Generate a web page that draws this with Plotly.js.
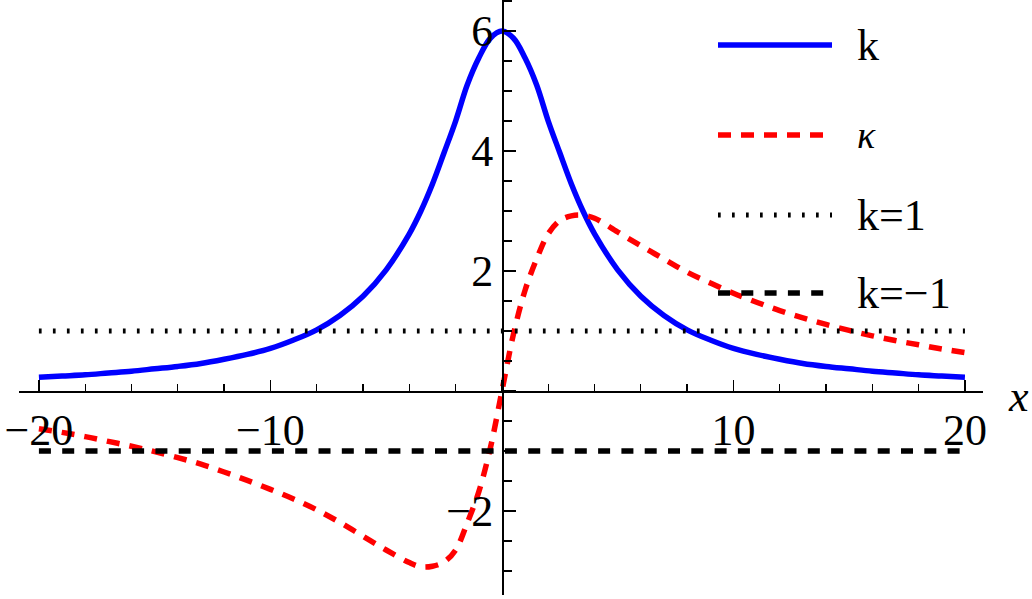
<!DOCTYPE html>
<html>
<head>
<meta charset="utf-8">
<script src="https://cdn.plot.ly/plotly-3.0.1.min.js"></script>
<style>
  html, body { margin: 0; padding: 0; background: #fff; }
  #plot { width: 1032px; height: 599px; }
</style>
</head>
<body>
<div id="plot"></div>
<script>
// Sample points
const xs = [-20, -19, -18, -17, -16, -15, -14, -13, -12, -11, -10, -9, -8, -7, -6, -5, -4,
    -3.5, -3, -2.5, -2, -1.5, -1, -0.5, 0, 0.5, 1, 1.5, 2, 2.5, 3, 3.5,
    4, 5, 6, 7, 8, 9, 10, 11, 12, 13, 14, 15, 16, 17, 18, 19, 20];

// k (blue, solid)
const kVals = [0.23, 0.25, 0.27, 0.30, 0.33, 0.37, 0.41, 0.46, 0.53, 0.61, 0.71, 0.85, 1.02, 1.26, 1.58, 2.02, 2.62,
    3.0, 3.45, 3.97, 4.5, 5.1, 5.55, 5.88, 6.0, 5.88, 5.55, 5.1, 4.5, 3.97, 3.45, 3.0,
    2.62, 2.02, 1.58, 1.26, 1.02, 0.85, 0.71, 0.61, 0.53, 0.46, 0.41, 0.37, 0.33, 0.30, 0.27, 0.25, 0.23];

// kappa (red, dashed)
const kappaVals = [-0.63, -0.69, -0.76, -0.84, -0.92, -1.01, -1.11, -1.22, -1.35, -1.49, -1.64, -1.8, -1.98, -2.19, -2.42, -2.65, -2.86,
    -2.93, -2.92, -2.85, -2.65, -2.2, -1.68, -0.95, 0, 0.95, 1.68, 2.2, 2.62, 2.84, 2.92, 2.93,
    2.88, 2.65, 2.42, 2.2, 1.98, 1.8, 1.63, 1.48, 1.34, 1.22, 1.11, 1.01, 0.92, 0.84, 0.77, 0.7, 0.64];

// reference levels
const levelX = [-20, 20];
const kOne = [1, 1];
const kMinusOne = [-1, -1];

// ticks
const xTickVals = [-20, -10, 0, 10, 20];
const xTickText = ['\u221220', '\u221210', '', '10', '20'];
const yTickVals = [-2, 0, 2, 4, 6];
const yTickText = ['\u22122', '', '2', '4', '6'];

const legendNames = ['k', '\u03ba', 'k=1', 'k=\u22121'];

// page size, used to place things in paper coords
const W = 1032, H = 599;
const px = p => p / W;
const py = p => 1 - p / H;

const serif = 'Liberation Serif, Times New Roman, serif';

const styles = [
    { color: '#0000ff', width: 5.5, dash: 'solid' },
    { color: '#ff0000', width: 5.5, dash: '13px,10px' },
    { color: '#000000', width: 5, dash: '2.7px,11.3px' },
    { color: '#000000', width: 5.5, dash: '12px,11.3px' }
];

const traces = [
    { x: xs, y: kVals, name: legendNames[0], line: Object.assign({ shape: 'spline', smoothing: 1 }, styles[0]) },
    { x: xs, y: kappaVals, name: legendNames[1], line: Object.assign({ shape: 'spline', smoothing: 1 }, styles[1]) },
    { x: levelX, y: kOne, name: legendNames[2], line: styles[2] },
    { x: levelX, y: kMinusOne, name: legendNames[3], line: styles[3] }
].map(t => Object.assign({ type: 'scatter', mode: 'lines', hoverinfo: 'skip' }, t));

// Legend drawn by hand (wide line samples like the original)
const legendRows = [45, 135, 215, 293];
const shapes = legendRows.map((row, i) => ({
    type: 'line', xref: 'paper', yref: 'paper',
    x0: px(718), x1: px(832), y0: py(row), y1: py(row),
    line: styles[i]
}));
const annotations = legendRows.map((row, i) => ({
    xref: 'paper', yref: 'paper', x: px(855), y: py(row),
    xanchor: 'left', yanchor: 'middle', showarrow: false,
    text: i === 1 ? '<i>' + legendNames[i] + '</i>' : legendNames[i],
    font: { family: serif, size: i === 1 ? 38 : 44, color: '#000' }
}));
// axis label
annotations.push({
    xref: 'paper', yref: 'paper', x: px(1006), y: py(396),
    xanchor: 'left', yanchor: 'middle', showarrow: false,
    text: '<i>x</i>', font: { family: serif, size: 44, color: '#000' }
});

const axisCommon = {
    showgrid: false, zeroline: false, showline: true,
    linecolor: '#000', linewidth: 1.5,
    ticks: 'inside', tickcolor: '#000', tickwidth: 1.5,
    tickmode: 'array',
    tickfont: { family: serif, size: 44, color: '#000' },
    fixedrange: true
};

const layout = {
    width: W, height: H,
    margin: { l: 0, r: 0, t: 0, b: 0 },
    paper_bgcolor: '#fff', plot_bgcolor: 'rgba(0,0,0,0)',
    showlegend: false,
    xaxis: Object.assign({}, axisCommon, {
        domain: [px(19), px(983)],
        range: [-20.86, 20.78],
        anchor: 'free', position: py(391),
        tickvals: xTickVals, ticktext: xTickText,
        ticklen: 11,
        minor: { dtick: 2, tick0: 0, ticks: 'inside', ticklen: 7, tickcolor: '#000', tickwidth: 1.3 }
    }),
    yaxis: Object.assign({}, axisCommon, {
        domain: [1 - 595 / H, 1],
        range: [-3.4, 6.517],
        anchor: 'free', position: px(502),
        tickvals: yTickVals, ticktext: yTickText,
        ticklen: 12,
        minor: { dtick: 0.5, tick0: 0, ticks: 'inside', ticklen: 8, tickcolor: '#000', tickwidth: 1.3 }
    }),
    shapes: shapes,
    annotations: annotations
};

Plotly.newPlot('plot', traces, layout, { staticPlot: true, displayModeBar: false });
</script>
</body>
</html>
